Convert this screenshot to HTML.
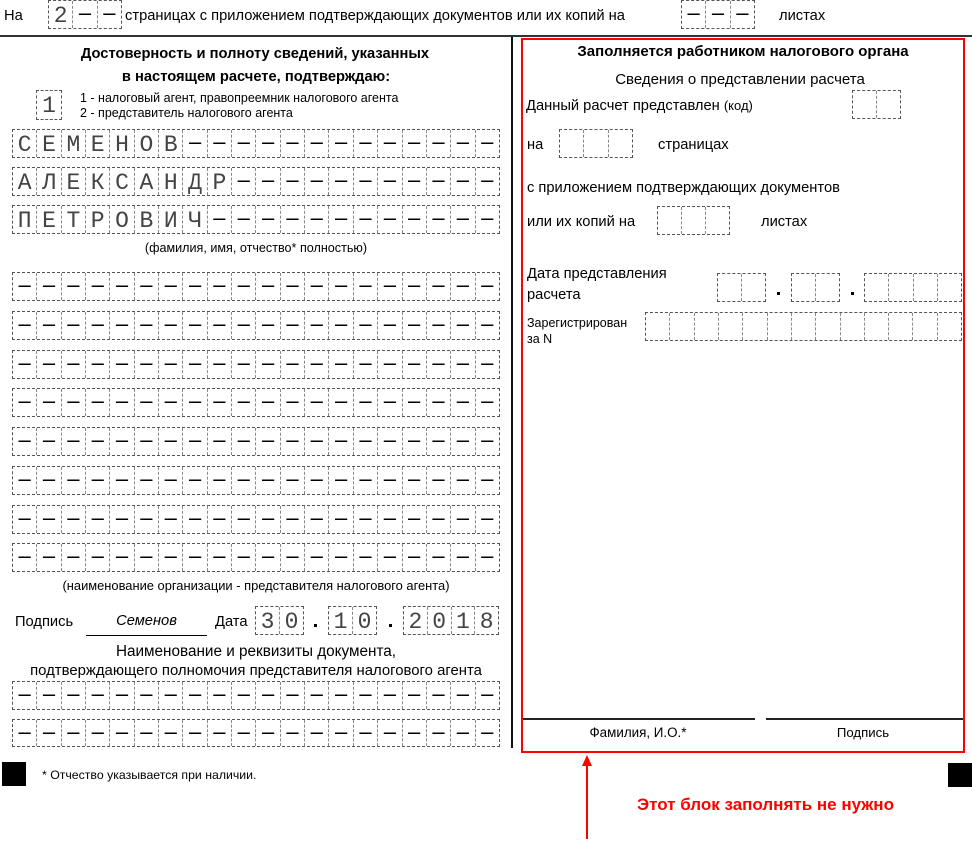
<!DOCTYPE html>
<html><head><meta charset="utf-8">
<style>
html,body{margin:0;padding:0;background:#fff;}
body{width:972px;height:845px;position:relative;overflow:hidden;font-family:"Liberation Sans",sans-serif;color:#000;}
.t{position:absolute;white-space:nowrap;font-size:14.7px;line-height:16px;}
.s{font-size:12.5px;line-height:14px;}
.c12{font-size:12.9px;line-height:14px;}
.b{font-weight:bold;}
.g{position:absolute;display:flex;border:1px dashed #555;box-sizing:border-box;}
.g>*{flex:1 1 0;border-left:1px dashed #888;text-align:center;font-style:normal;font-weight:normal;overflow:hidden;}
.g>*:first-child{border-left:0;}
.g i{font-family:"Liberation Sans",sans-serif;font-size:22px;line-height:23px;color:#000;}
.g b{font-family:"Liberation Mono",monospace;font-size:23px;line-height:30px;color:#444;}
.r{height:29px;left:12px;width:488px;}
.dot{position:absolute;width:3px;height:3px;background:#000;}
.ln{position:absolute;background:#000;}
</style></head><body>

<!-- top row -->
<div class="t" style="left:4px;top:8px;">На</div>
<div class="g" style="left:48px;top:0;width:74px;height:29px;"><b>2</b><i>–</i><i>–</i></div>
<div class="t" style="left:125px;top:8px;">страницах с приложением подтверждающих документов или их копий на</div>
<div class="g" style="left:681px;top:0;width:74px;height:29px;"><i>–</i><i>–</i><i>–</i></div>
<div class="t" style="left:779px;top:8px;">листах</div>
<div class="ln" style="left:0;top:35px;width:972px;height:2px;background:#333;"></div>

<!-- vertical divider -->
<div class="ln" style="left:511px;top:37px;width:2px;height:711px;background:#111;"></div>

<!-- left header -->
<div class="t b" style="left:0;width:510px;text-align:center;top:46px;">Достоверность и полноту сведений, указанных</div>
<div class="t b" style="left:0;width:512px;text-align:center;top:69px;">в настоящем расчете, подтверждаю:</div>
<div class="g" style="left:36px;top:90px;width:26px;height:30px;"><b>1</b></div>
<div class="t s" style="left:80px;top:91px;">1 - налоговый агент, правопреемник налогового агента</div>
<div class="t s" style="left:80px;top:106px;">2 - представитель налогового агента</div>

<!-- name rows -->
<div class="g r" style="top:129px;"><b>С</b><b>Е</b><b>М</b><b>Е</b><b>Н</b><b>О</b><b>В</b><i>–</i><i>–</i><i>–</i><i>–</i><i>–</i><i>–</i><i>–</i><i>–</i><i>–</i><i>–</i><i>–</i><i>–</i><i>–</i></div>
<div class="g r" style="top:167px;"><b>А</b><b>Л</b><b>Е</b><b>К</b><b>С</b><b>А</b><b>Н</b><b>Д</b><b>Р</b><i>–</i><i>–</i><i>–</i><i>–</i><i>–</i><i>–</i><i>–</i><i>–</i><i>–</i><i>–</i><i>–</i></div>
<div class="g r" style="top:205px;"><b>П</b><b>Е</b><b>Т</b><b>Р</b><b>О</b><b>В</b><b>И</b><b>Ч</b><i>–</i><i>–</i><i>–</i><i>–</i><i>–</i><i>–</i><i>–</i><i>–</i><i>–</i><i>–</i><i>–</i><i>–</i></div>
<div class="t c12" style="left:0;width:512px;text-align:center;top:241px;font-size:12.6px;">(фамилия, имя, отчество* полностью)</div>

<!-- org rows -->
<div class="g r" style="top:272px;"><i>–</i><i>–</i><i>–</i><i>–</i><i>–</i><i>–</i><i>–</i><i>–</i><i>–</i><i>–</i><i>–</i><i>–</i><i>–</i><i>–</i><i>–</i><i>–</i><i>–</i><i>–</i><i>–</i><i>–</i></div>
<div class="g r" style="top:311px;"><i>–</i><i>–</i><i>–</i><i>–</i><i>–</i><i>–</i><i>–</i><i>–</i><i>–</i><i>–</i><i>–</i><i>–</i><i>–</i><i>–</i><i>–</i><i>–</i><i>–</i><i>–</i><i>–</i><i>–</i></div>
<div class="g r" style="top:350px;"><i>–</i><i>–</i><i>–</i><i>–</i><i>–</i><i>–</i><i>–</i><i>–</i><i>–</i><i>–</i><i>–</i><i>–</i><i>–</i><i>–</i><i>–</i><i>–</i><i>–</i><i>–</i><i>–</i><i>–</i></div>
<div class="g r" style="top:388px;"><i>–</i><i>–</i><i>–</i><i>–</i><i>–</i><i>–</i><i>–</i><i>–</i><i>–</i><i>–</i><i>–</i><i>–</i><i>–</i><i>–</i><i>–</i><i>–</i><i>–</i><i>–</i><i>–</i><i>–</i></div>
<div class="g r" style="top:427px;"><i>–</i><i>–</i><i>–</i><i>–</i><i>–</i><i>–</i><i>–</i><i>–</i><i>–</i><i>–</i><i>–</i><i>–</i><i>–</i><i>–</i><i>–</i><i>–</i><i>–</i><i>–</i><i>–</i><i>–</i></div>
<div class="g r" style="top:466px;"><i>–</i><i>–</i><i>–</i><i>–</i><i>–</i><i>–</i><i>–</i><i>–</i><i>–</i><i>–</i><i>–</i><i>–</i><i>–</i><i>–</i><i>–</i><i>–</i><i>–</i><i>–</i><i>–</i><i>–</i></div>
<div class="g r" style="top:505px;"><i>–</i><i>–</i><i>–</i><i>–</i><i>–</i><i>–</i><i>–</i><i>–</i><i>–</i><i>–</i><i>–</i><i>–</i><i>–</i><i>–</i><i>–</i><i>–</i><i>–</i><i>–</i><i>–</i><i>–</i></div>
<div class="g r" style="top:543px;"><i>–</i><i>–</i><i>–</i><i>–</i><i>–</i><i>–</i><i>–</i><i>–</i><i>–</i><i>–</i><i>–</i><i>–</i><i>–</i><i>–</i><i>–</i><i>–</i><i>–</i><i>–</i><i>–</i><i>–</i></div>
<div class="t c12" style="left:0;width:512px;text-align:center;top:579px;">(наименование организации - представителя налогового агента)</div>

<!-- signature / date -->
<div class="t" style="left:15px;top:614px;">Подпись</div>
<div class="ln" style="left:86px;top:635px;width:121px;height:1px;"></div>
<div class="t" style="left:86px;width:121px;text-align:center;top:613px;font-style:italic;">Семенов</div>
<div class="t" style="left:215px;top:614px;">Дата</div>
<div class="g" style="left:255px;top:606px;width:49px;height:29px;"><b>3</b><b>0</b></div>
<div class="dot" style="left:314px;top:624px;"></div>
<div class="g" style="left:328px;top:606px;width:49px;height:29px;"><b>1</b><b>0</b></div>
<div class="dot" style="left:389px;top:624px;"></div>
<div class="g" style="left:403px;top:606px;width:96px;height:29px;"><b>2</b><b>0</b><b>1</b><b>8</b></div>

<div class="t" style="left:0;width:512px;text-align:center;top:644px;font-size:15.3px;">Наименование и реквизиты документа,</div>
<div class="t" style="left:0;width:512px;text-align:center;top:663px;font-size:14.9px;">подтверждающего полномочия представителя налогового агента</div>
<div class="g r" style="top:681px;"><i>–</i><i>–</i><i>–</i><i>–</i><i>–</i><i>–</i><i>–</i><i>–</i><i>–</i><i>–</i><i>–</i><i>–</i><i>–</i><i>–</i><i>–</i><i>–</i><i>–</i><i>–</i><i>–</i><i>–</i></div>
<div class="g r" style="top:719px;height:28px;"><i>–</i><i>–</i><i>–</i><i>–</i><i>–</i><i>–</i><i>–</i><i>–</i><i>–</i><i>–</i><i>–</i><i>–</i><i>–</i><i>–</i><i>–</i><i>–</i><i>–</i><i>–</i><i>–</i><i>–</i></div>

<!-- footer -->
<div class="ln" style="left:2px;top:762px;width:24px;height:24px;"></div>
<div class="t s" style="left:42px;top:768px;font-size:12.3px;">* Отчество указывается при наличии.</div>
<div class="ln" style="left:948px;top:763px;width:24px;height:24px;"></div>

<!-- right panel -->
<div style="position:absolute;left:521px;top:38px;width:444px;height:715px;border:2px solid #f00;box-sizing:border-box;"></div>
<div class="t b" style="left:522px;width:442px;text-align:center;top:44px;font-size:15px;">Заполняется работником налогового органа</div>
<div class="t" style="left:522px;width:436px;text-align:center;top:72px;font-size:15px;">Сведения о представлении расчета</div>
<div class="t" style="left:526px;top:98px;">Данный расчет представлен <span style="font-size:13px;">(код)</span></div>
<div class="g" style="left:852px;top:90px;width:49px;height:29px;"><i></i><i></i></div>

<div class="t" style="left:527px;top:137px;">на</div>
<div class="g" style="left:559px;top:129px;width:74px;height:29px;"><i></i><i></i><i></i></div>
<div class="t" style="left:658px;top:137px;">страницах</div>

<div class="t" style="left:527px;top:180px;">с приложением подтверждающих документов</div>
<div class="t" style="left:527px;top:214px;">или их копий на</div>
<div class="g" style="left:657px;top:206px;width:73px;height:29px;"><i></i><i></i><i></i></div>
<div class="t" style="left:761px;top:214px;">листах</div>

<div class="t" style="left:527px;top:266px;">Дата представления</div>
<div class="t" style="left:527px;top:287px;">расчета</div>
<div class="g" style="left:717px;top:273px;width:49px;height:29px;"><i></i><i></i></div>
<div class="dot" style="left:777px;top:292px;"></div>
<div class="g" style="left:791px;top:273px;width:49px;height:29px;"><i></i><i></i></div>
<div class="dot" style="left:851px;top:292px;"></div>
<div class="g" style="left:864px;top:273px;width:98px;height:29px;"><i></i><i></i><i></i><i></i></div>

<div class="t c12" style="left:527px;top:316px;font-size:12.5px;">Зарегистрирован</div>
<div class="t c12" style="left:527px;top:332px;font-size:12.5px;">за N</div>
<div class="g" style="left:645px;top:312px;width:317px;height:29px;"><i></i><i></i><i></i><i></i><i></i><i></i><i></i><i></i><i></i><i></i><i></i><i></i><i></i></div>

<div class="ln" style="left:523px;top:718px;width:232px;height:2px;background:#222;"></div>
<div class="ln" style="left:766px;top:718px;width:197px;height:2px;background:#222;"></div>
<div class="t c12" style="left:538px;width:200px;text-align:center;top:726px;font-size:13.4px;">Фамилия, И.О.*</div>
<div class="t c12" style="left:763px;width:200px;text-align:center;top:726px;font-size:13.2px;">Подпись</div>

<!-- arrow -->
<svg style="position:absolute;left:0;top:0;" width="972" height="845">
  <line x1="587" y1="764" x2="587" y2="839" stroke="#f00" stroke-width="2"/>
  <polygon points="587,755 582,766 592,766" fill="#f00"/>
</svg>
<div class="t b" style="left:637px;top:796px;font-size:17px;line-height:18px;color:#f00;">Этот блок заполнять не нужно</div>

</body></html>
